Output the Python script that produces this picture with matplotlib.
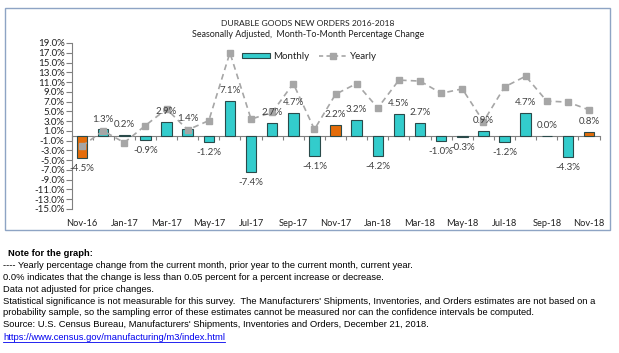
import matplotlib
matplotlib.use("Agg")
import matplotlib.pyplot as plt
from matplotlib.patches import Rectangle, Patch
from matplotlib.lines import Line2D
import numpy as np

months = ["Nov-16", "Dec-16", "Jan-17", "Feb-17", "Mar-17", "Apr-17", "May-17", "Jun-17",
          "Jul-17", "Aug-17", "Sep-17", "Oct-17", "Nov-17", "Dec-17", "Jan-18", "Feb-18",
          "Mar-18", "Apr-18", "May-18", "Jun-18", "Jul-18", "Aug-18", "Sep-18", "Oct-18", "Nov-18"]
monthly = [-4.5, 1.3, 0.2, -0.9, 2.9, 1.4, -1.2, 7.1, -7.4, 2.7, 4.7, -4.1, 2.2, 3.2, -4.2,
           4.5, 2.7, -1.0, -0.3, 0.9, -1.2, 4.7, 0.0, -4.3, 0.8]
yearly = [-2.1, 1.0, -1.4, 2.1, 5.5, 1.2, 3.1, 17.0, 3.4, 4.8, 10.7, 1.3, 8.5, 10.7, 5.7,
          11.4, 11.2, 8.7, 9.6, 2.9, 10.0, 12.2, 7.1, 6.9, 5.3]
highlight = ["Nov-16", "Nov-17", "Nov-18"]
yticks = np.arange(-15, 20, 2)
xlabels_every = 2

notes = [
    "---- Yearly percentage change from the current month, prior year to the current month, current year.",
    "0.0% indicates that the change is less than 0.05 percent for a percent increase or decrease.",
    "Data not adjusted for price changes.",
    "Statistical significance is not measurable for this survey.  The Manufacturers' Shipments, Inventories, and Orders estimates are not based on a",
    "probability sample, so the sampling error of these estimates cannot be measured nor can the confidence intervals be computed.",
    "Source: U.S. Census Bureau, Manufacturers' Shipments, Inventories and Orders, December 21, 2018.",
]
link = "https://www.census.gov/manufacturing/m3/index.html"

W, H = 619, 353
fig = plt.figure(figsize=(W / 100, H / 100), dpi=100)
cfont = "Lato"
TEAL = "#33CCCC"
ORANGE = "#E46C0A"
EDGE = "#2A4A4A"
GRAY = "#A6A6A6"

def fx(px):
    return px / W

def fy(py):
    return 1 - py / H

# chart border
fig.patches.append(Rectangle((fx(5), fy(230)), fx(605), 222 / H, transform=fig.transFigure,
                             fill=False, edgecolor="#8EA4C4", linewidth=1.0))

ax = fig.add_axes([fx(71.5), fy(209), fx(599.6 - 71.5), (209 - 43) / H])
x = np.arange(len(months))
ymin, ymax = -15, 19
ax.set_xlim(-0.5, len(months) - 0.5)
ax.set_ylim(ymin, ymax)

colors = [ORANGE if m in highlight else TEAL for m in months]
ax.bar(x, monthly, width=0.5, color=colors, edgecolor=EDGE, linewidth=0.8, zorder=2)
ax.plot(x, yearly, color=GRAY, linestyle=(0, (3.5, 2.5)), linewidth=1.2, marker="s",
        markersize=4.5, zorder=3)

for xi, v in zip(x, monthly):
    off = 7.5 if v >= 0 else -7.5
    ax.annotate(f"{v:.1f}%", (xi, v), xytext=(0, off), textcoords="offset points",
                ha="center", va="center", fontsize=7, family=cfont, color="#404040", zorder=4)

for s in ["top", "right", "bottom"]:
    ax.spines[s].set_visible(False)
ax.spines["left"].set_color("#808080")
ax.spines["left"].set_linewidth(0.8)
ax.set_yticks(yticks)
ax.set_yticklabels([f"{t:.1f}%" for t in yticks], family=cfont, fontsize=7, color="#202020")
ax.tick_params(axis="y", length=4, width=0.8, color="#808080", pad=1)

# category labels at bottom
ax.set_xticks(x[::xlabels_every])
ax.set_xticklabels(months[::xlabels_every], family=cfont, fontsize=6.7, color="#202020")
ax.tick_params(axis="x", length=0, pad=7.5)

# zero axis with boundary ticks
sec = ax.secondary_xaxis((0 - ymin) / (ymax - ymin))
sec.set_xticks(np.arange(-0.5, len(months), 1.0))
sec.set_xticklabels([])
sec.tick_params(axis="x", length=3, width=0.8, color="#808080", direction="out")
sec.spines["bottom"].set_color("#808080")
sec.spines["bottom"].set_linewidth(0.8)
ax.patch.set_visible(False)

handles = [Patch(facecolor=TEAL, edgecolor=EDGE, linewidth=0.8),
           Line2D([], [], color=GRAY, linestyle=(0, (2.5, 2.0)), linewidth=1.2, marker="s",
                  markersize=4.0)]
leg = ax.legend(handles, ["Monthly", "Yearly"], loc="center", bbox_to_anchor=(fx(309.5), fy(56.7)),
                bbox_transform=fig.transFigure, ncol=2, frameon=False,
                prop={"family": cfont, "size": 7}, handlelength=2.8, handleheight=0.45,
                columnspacing=1.0, handletextpad=0.35, borderpad=0.2)
for t in leg.get_texts():
    t.set_color("#202020")

fig.text(fx(308), fy(23.5), "DURABLE GOODS NEW ORDERS 2016-2018", ha="center", va="center",
         family=cfont, fontsize=6.1, color="#202020")
fig.text(fx(308), fy(34.5), "Seasonally Adjusted,  Month-To-Month Percentage Change", ha="center",
         va="center", family=cfont, fontsize=6.4, color="#202020")

nfont = ["Liberation Sans Narrow", "Liberation Sans"]
nsize = 6.75
fig.text(fx(8), fy(253.5), "Note for the graph:", ha="left", va="center", family=nfont,
         fontsize=nsize, weight="bold", color="black")
ys = [265.5, 277.3, 289, 301, 312.7, 324.3]
for yy, t in zip(ys, notes):
    fig.text(fx(3), fy(yy), t, ha="left", va="center", family=nfont, fontsize=nsize, color="black")
lt = fig.text(fx(3), fy(338), link, ha="left", va="center", family=nfont, fontsize=nsize,
              color="#0000EE")
fig.canvas.draw()
bb = lt.get_window_extent()
fig.add_artist(Line2D([bb.x0 / W, bb.x1 / W], [(bb.y0 + 1) / H] * 2, color="#0000EE",
                      linewidth=0.6, transform=fig.transFigure))

fig.savefig("out.png", dpi=100)
